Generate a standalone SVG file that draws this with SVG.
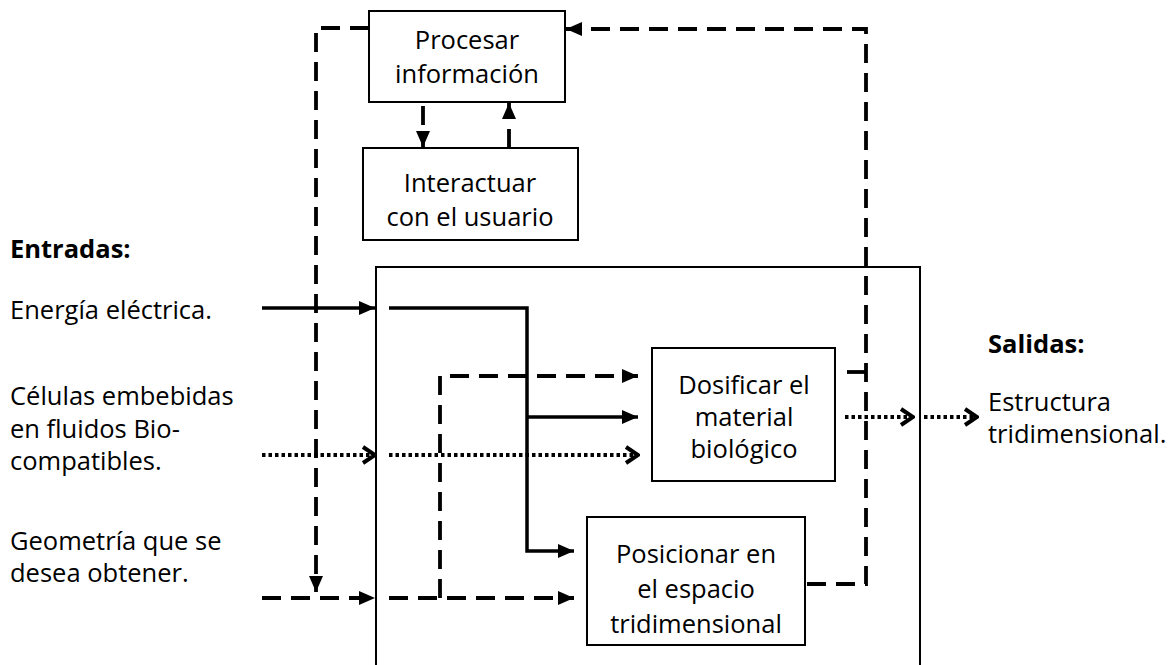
<svg xmlns="http://www.w3.org/2000/svg" width="1174" height="665" viewBox="0 0 1174 665">
<style>
text{font-family:"Open Sans","Liberation Sans",sans-serif;font-size:25.5px;fill:#000}
.c{text-anchor:middle}
.b{font-weight:bold}
.box{fill:#fff;stroke:#000;stroke-width:2}
.solid{fill:none;stroke:#000;stroke-width:3.5}
.dash{fill:none;stroke:#000;stroke-width:3.8;stroke-dasharray:19 10}
.dot{fill:none;stroke:#000;stroke-width:3.8;stroke-dasharray:3.5 3}
</style>
<defs>
<marker id="arr" viewBox="0 0 16 14" refX="16" refY="7" markerWidth="16" markerHeight="14" markerUnits="userSpaceOnUse" orient="auto">
<path d="M0,0 L16,7 L0,14 z" fill="#000"/>
</marker>
<marker id="chev" viewBox="0 0 16 20" refX="14" refY="10" markerWidth="16" markerHeight="20" markerUnits="userSpaceOnUse" orient="auto">
<path d="M2,2 L14,10 L2,18" fill="none" stroke="#000" stroke-width="4"/>
</marker>
</defs>
<rect width="1174" height="665" fill="#fff"/>
<g id="system-boundary">
<path d="M376,665 V267 H920 V665" fill="none" stroke="#000" stroke-width="2"/>
</g>
<g id="connectors">
<path class="solid" d="M262,308 H375" marker-end="url(#arr)"/>
<path class="solid" d="M389,308 H527 V551 H574" marker-end="url(#arr)"/>
<path class="solid" d="M527,417 H638" marker-end="url(#arr)"/>
<path class="dash" d="M262,598 H375" marker-end="url(#arr)"/>
<path class="dash" d="M389,598 H574" marker-end="url(#arr)"/>
<path class="dash" d="M440,598 V376 H638" marker-end="url(#arr)"/>
<path class="dash" d="M369,28 H316 V592" marker-end="url(#arr)"/>
<path class="dash" d="M423,106 V147" marker-end="url(#arr)"/>
<path class="dash" d="M509,148 V103" marker-end="url(#arr)"/>
<path class="dash" d="M807,584 H866 V29 H566" marker-end="url(#arr)"/>
<path class="dash" d="M847,372 H866"/>
<path class="dot" d="M262,455 H375" marker-end="url(#chev)"/>
<path class="dot" d="M389,455 H638" marker-end="url(#chev)"/>
<path class="dot" d="M845,417 H913" marker-end="url(#chev)"/>
<path class="dot" d="M924,417 H977" marker-end="url(#chev)"/>
</g>
<g id="procesar">
<rect class="box" x="369" y="11" width="196" height="91"/>
<text class="c" x="467" y="49">Procesar</text>
<text class="c" x="467" y="83">información</text>
</g>
<g id="interactuar">
<rect class="box" x="363" y="148" width="215" height="92"/>
<text class="c" x="470" y="192">Interactuar</text>
<text class="c" x="470" y="226">con el usuario</text>
</g>
<g id="dosificar">
<rect class="box" x="652" y="348" width="183" height="133"/>
<text class="c" x="744" y="394">Dosificar el</text>
<text class="c" x="744" y="426">material</text>
<text class="c" x="744" y="458">biológico</text>
</g>
<g id="posicionar">
<rect class="box" x="587" y="517" width="218" height="128"/>
<text class="c" x="696" y="563">Posicionar en</text>
<text class="c" x="696" y="598">el espacio</text>
<text class="c" x="696" y="633">tridimensional</text>
</g>
<g id="entradas">
<text class="b" x="10" y="258">Entradas:</text>
<text x="10" y="319">Energía eléctrica.</text>
<text x="10" y="405">Células embebidas</text>
<text x="10" y="438">en fluidos Bio-</text>
<text x="10" y="470">compatibles.</text>
<text x="10" y="550">Geometría que se</text>
<text x="10" y="582">desea obtener.</text>
</g>
<g id="salidas">
<text class="b" x="988" y="353">Salidas:</text>
<text x="988" y="411">Estructura</text>
<text x="988" y="443">tridimensional.</text>
</g>
</svg>
